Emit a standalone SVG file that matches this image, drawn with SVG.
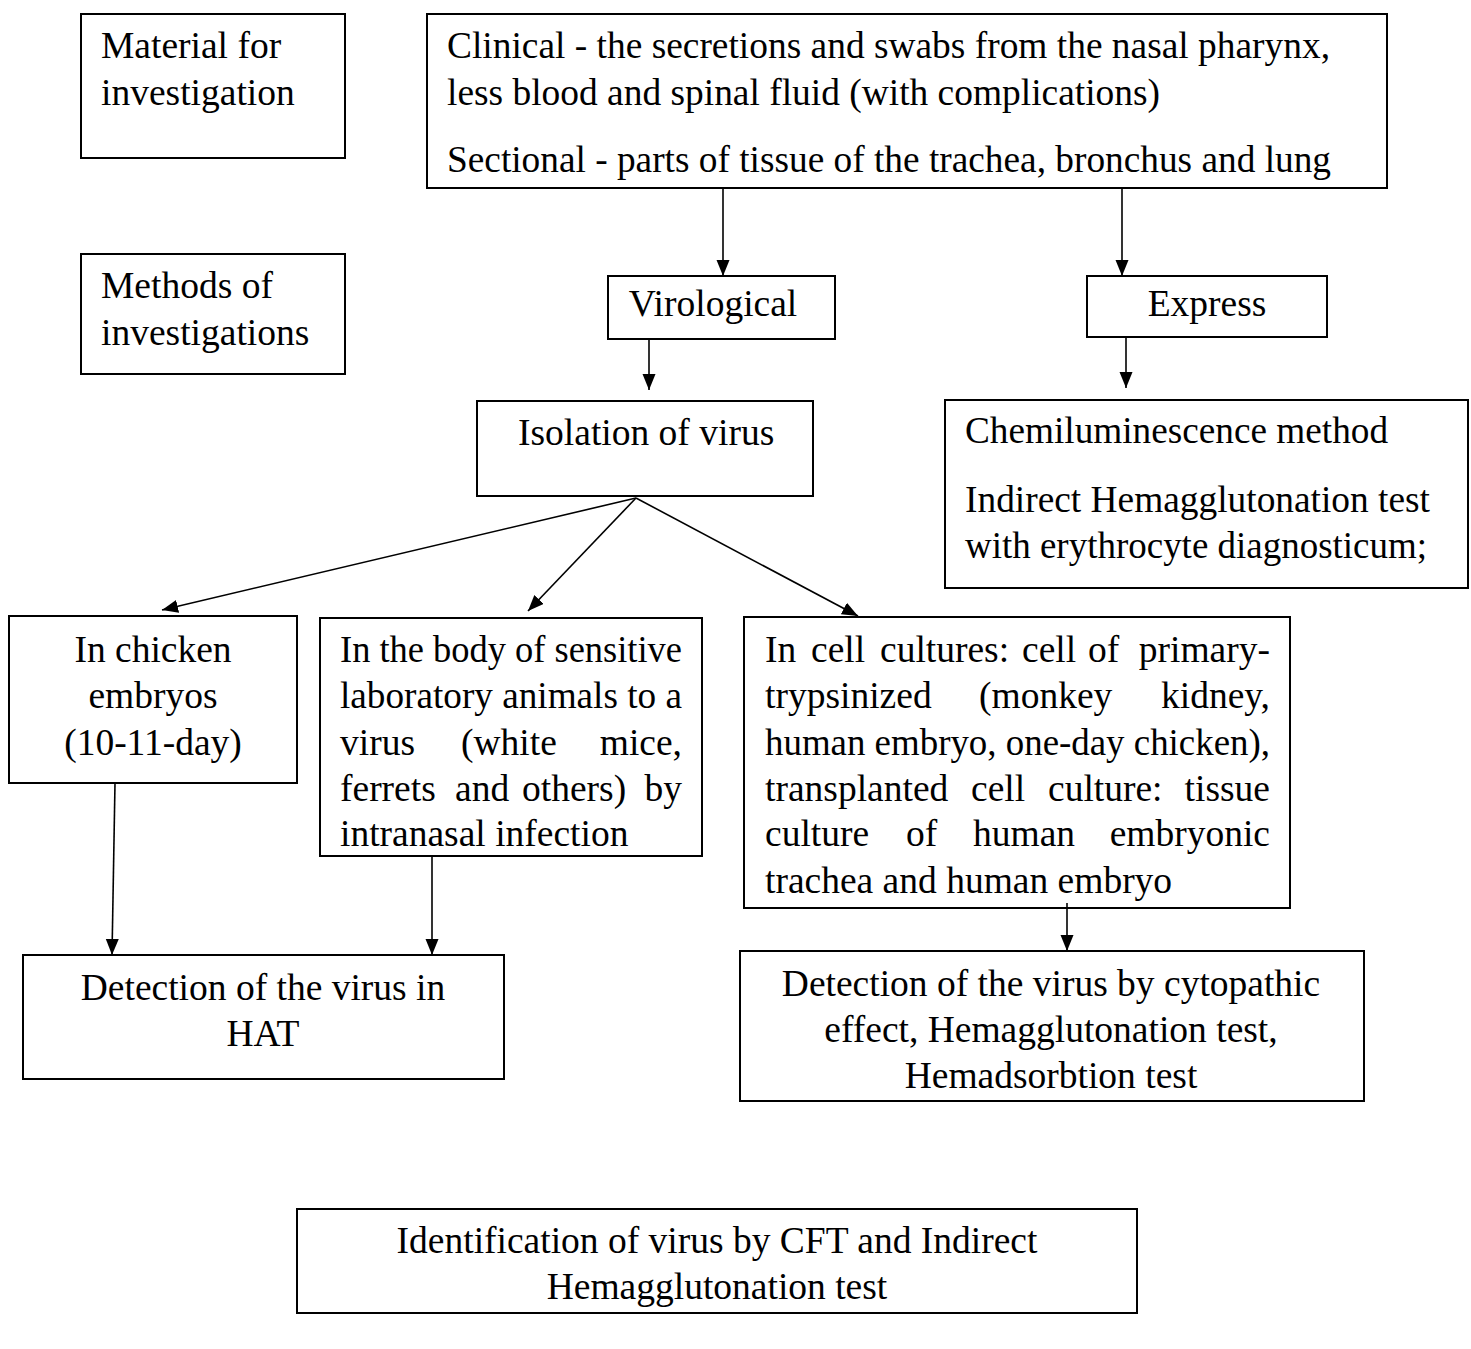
<svg xmlns="http://www.w3.org/2000/svg" width="1471" height="1349" viewBox="0 0 1471 1349">
<defs>
<style>
text{font-family:"Liberation Serif","Times New Roman",serif;font-size:37.5px;fill:#000}
.box{fill:#fff;stroke:#000;stroke-width:2}
.c{text-anchor:middle}
.e{text-anchor:end}
.conn line{stroke:#000;stroke-width:1.6}
</style>
<marker id="arr" markerUnits="userSpaceOnUse" markerWidth="16" markerHeight="14" refX="16" refY="6.5" orient="auto">
<path d="M0,0 L16,6.5 L0,13 Z" fill="#000"/>
</marker>
</defs>
<rect width="1471" height="1349" fill="#fff"/>

<g id="material-label">
<rect class="box" x="81" y="14" width="264" height="144"/>
<text x="101" y="58">Material for</text>
<text x="101" y="105">investigation</text>
</g>

<g id="material">
<rect class="box" x="427" y="14" width="960" height="174"/>
<text x="447" y="58" textLength="883" lengthAdjust="spacingAndGlyphs">Clinical - the secretions and swabs from the nasal pharynx,</text>
<text x="447" y="105" textLength="713" lengthAdjust="spacingAndGlyphs">less blood and spinal fluid (with complications)</text>
<text x="447" y="172" textLength="884" lengthAdjust="spacingAndGlyphs">Sectional - parts of tissue of the trachea, bronchus and lung</text>
</g>

<g id="methods-label">
<rect class="box" x="81" y="254" width="264" height="120"/>
<text x="101" y="298">Methods of</text>
<text x="101" y="345">investigations</text>
</g>

<g id="virological">
<rect class="box" x="608" y="276" width="227" height="63"/>
<text class="c" x="713" y="316">Virological</text>
</g>

<g id="express">
<rect class="box" x="1087" y="276" width="240" height="61"/>
<text class="c" x="1207" y="316">Express</text>
</g>

<g id="isolation">
<rect class="box" x="477" y="401" width="336" height="95"/>
<text x="518" y="445">Isolation of virus</text>
</g>

<g id="express-methods">
<rect class="box" x="945" y="400" width="523" height="188"/>
<text x="965" y="443" textLength="423" lengthAdjust="spacingAndGlyphs">Chemiluminescence method</text>
<text x="965" y="512" textLength="465" lengthAdjust="spacingAndGlyphs">Indirect Hemagglutonation test</text>
<text x="965" y="558" textLength="462" lengthAdjust="spacingAndGlyphs">with erythrocyte diagnosticum;</text>
</g>

<g id="chicken">
<rect class="box" x="9" y="616" width="288" height="167"/>
<text class="c" x="153" y="662">In chicken</text>
<text class="c" x="153" y="708">embryos</text>
<text class="c" x="153" y="755">(10-11-day)</text>
</g>

<g id="animals">
<rect class="box" x="320" y="618" width="382" height="238"/>
<text x="340" y="662" textLength="342" lengthAdjust="spacingAndGlyphs">In the body of sensitive</text>
<text x="340" y="708" textLength="342" lengthAdjust="spacingAndGlyphs">laboratory animals to a</text>
<text y="755"><tspan x="340">virus</tspan><tspan x="461">(white</tspan><tspan class="e" x="682">mice,</tspan></text>
<text y="801"><tspan x="340">ferrets</tspan><tspan x="455">and</tspan><tspan x="522">others)</tspan><tspan class="e" x="682">by</tspan></text>
<text x="340" y="846">intranasal infection</text>
</g>

<g id="cell-cultures">
<rect class="box" x="744" y="617" width="546" height="291"/>
<text y="662"><tspan x="765">In</tspan><tspan x="811">cell</tspan><tspan x="880">cultures:</tspan><tspan x="1022">cell</tspan><tspan x="1088">of</tspan><tspan class="e" x="1270">primary-</tspan></text>
<text y="708"><tspan x="765">trypsinized</tspan><tspan x="979">(monkey</tspan><tspan class="e" x="1270">kidney,</tspan></text>
<text x="765" y="755" textLength="505" lengthAdjust="spacingAndGlyphs">human embryo, one-day chicken),</text>
<text y="801"><tspan x="765">transplanted</tspan><tspan x="971">cell</tspan><tspan x="1048">culture:</tspan><tspan class="e" x="1270">tissue</tspan></text>
<text y="846"><tspan x="765">culture</tspan><tspan x="906">of</tspan><tspan x="973">human</tspan><tspan class="e" x="1270">embryonic</tspan></text>
<text x="765" y="893">trachea and human embryo</text>
</g>

<g id="detection-hat">
<rect class="box" x="23" y="955" width="481" height="124"/>
<text class="c" x="263" y="1000">Detection of the virus in</text>
<text class="c" x="263" y="1046">HAT</text>
</g>

<g id="detection-cpe">
<rect class="box" x="740" y="951" width="624" height="150"/>
<text class="c" x="1051" y="996">Detection of the virus by cytopathic</text>
<text class="c" x="1051" y="1042">effect, Hemagglutonation test,</text>
<text class="c" x="1051" y="1088">Hemadsorbtion test</text>
</g>

<g id="identification">
<rect class="box" x="297" y="1209" width="840" height="104"/>
<text class="c" x="717" y="1253">Identification of virus by CFT and Indirect</text>
<text class="c" x="717" y="1299">Hemagglutonation test</text>
</g>

<g class="conn" id="connectors">
<line x1="723" y1="188" x2="723" y2="276" marker-end="url(#arr)"/>
<line x1="1122" y1="188" x2="1122" y2="276" marker-end="url(#arr)"/>
<line x1="649" y1="339" x2="649" y2="390" marker-end="url(#arr)"/>
<line x1="1126" y1="337" x2="1126" y2="388" marker-end="url(#arr)"/>
<line x1="636" y1="498" x2="162" y2="610" marker-end="url(#arr)"/>
<line x1="636" y1="498" x2="528" y2="611" marker-end="url(#arr)"/>
<line x1="636" y1="498" x2="858" y2="616" marker-end="url(#arr)"/>
<line x1="115" y1="783" x2="112" y2="955" marker-end="url(#arr)"/>
<line x1="432" y1="856" x2="432" y2="955" marker-end="url(#arr)"/>
<line x1="1067" y1="903" x2="1067" y2="951" marker-end="url(#arr)"/>
</g>
</svg>
